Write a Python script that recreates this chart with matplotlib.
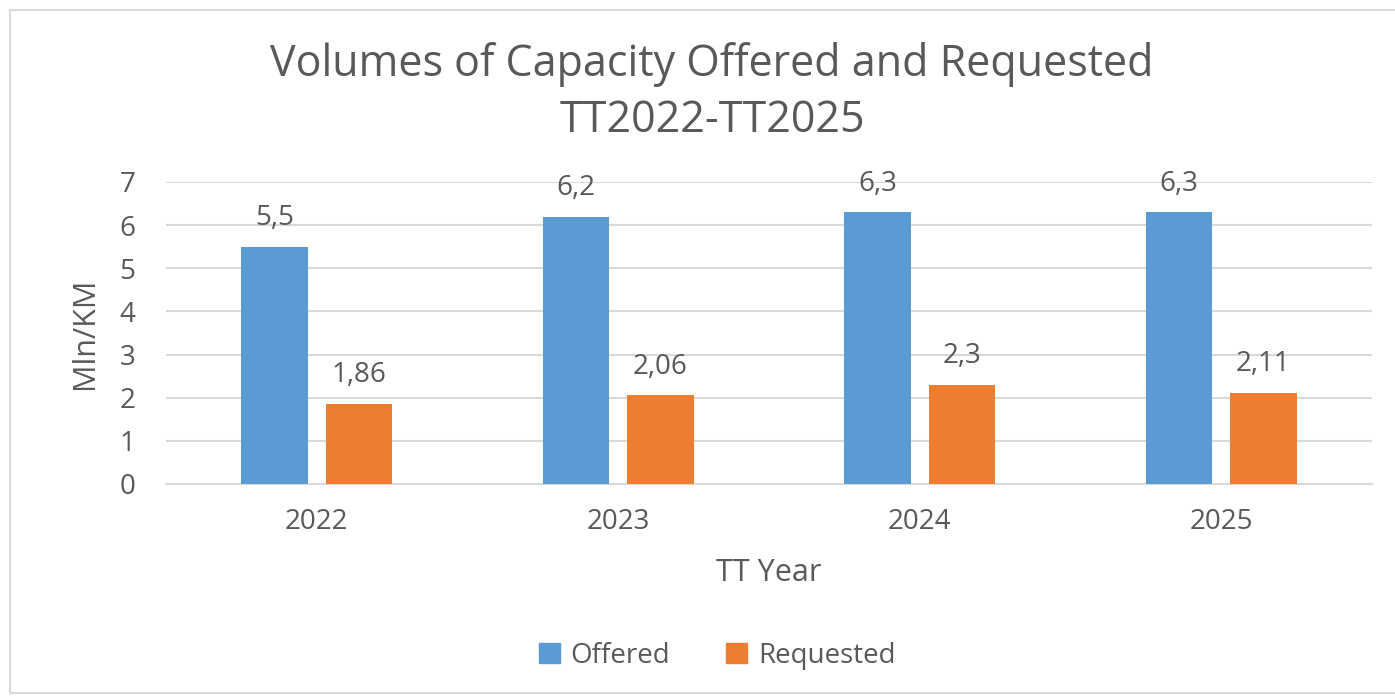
import matplotlib
matplotlib.use("Agg")
import matplotlib.pyplot as plt
from matplotlib.patches import Rectangle, Patch
import numpy as np

years = ["2022", "2023", "2024", "2025"]
offered = [5.5, 6.2, 6.3, 6.3]
requested = [1.86, 2.06, 2.3, 2.11]
offered_labels = ["5,5", "6,2", "6,3", "6,3"]
requested_labels = ["1,86", "2,06", "2,3", "2,11"]
yticks = [0, 1, 2, 3, 4, 5, 6, 7]

BLUE = "#5B9BD5"
ORANGE = "#ED7D31"
TXT = "#595959"
GRID = "#D9D9D9"

plt.rcParams['font.family'] = ['Open Sans', 'DejaVu Sans']

W, H = 1395, 696
fig = plt.figure(figsize=(W / 100, H / 100), dpi=100)

# outer border
fig.patches.append(Rectangle((10 / W, 1 - 693 / H), (W - 8) / W, (693 - 10) / H,
                             transform=fig.transFigure, fill=False,
                             edgecolor="#D9D9D9", linewidth=1.5))

ax = fig.add_axes([166 / W, 1 - 484 / H, (1372 - 166) / W, (484 - 182) / H])
x = np.arange(len(years))
bw = 0.22
off = 0.14
b1 = ax.bar(x - off, offered, bw, color=BLUE, label="Offered", zorder=3)
b2 = ax.bar(x + off, requested, bw, color=ORANGE, label="Requested", zorder=3)

for bars, labels in ((b1, offered_labels), (b2, requested_labels)):
    for rect, lab in zip(bars, labels):
        ax.annotate(lab, (rect.get_x() + rect.get_width() / 2, rect.get_height()),
                    xytext=(0, 15.5), textcoords="offset points",
                    ha="center", va="baseline", fontsize=20, color=TXT)

ax.set_xlim(-0.5, len(years) - 0.5)
ax.set_ylim(0, 7)
ax.set_yticks(yticks)
ax.set_xticks(x)
ax.set_xticklabels(years)
ax.yaxis.grid(True, color=GRID, linewidth=1.5, zorder=0)
ax.set_axisbelow(True)
for s in ["top", "right", "left"]:
    ax.spines[s].set_visible(False)
ax.spines["bottom"].set_color(GRID)
ax.spines["bottom"].set_linewidth(1.5)
ax.tick_params(axis="both", length=0, labelsize=20, labelcolor=TXT)
ax.tick_params(axis="x", pad=17)
ax.tick_params(axis="y", pad=22)

ax.set_ylabel("Mln/KM", fontsize=22, color=TXT, labelpad=14)
ax.set_xlabel("TT Year", fontsize=22, color=TXT, labelpad=16)

fig.text(712 / W, 1 - 76 / H, "Volumes of Capacity Offered and Requested",
         ha="center", va="baseline", fontsize=31, color=TXT)
fig.text(712 / W, 1 - 132 / H, "TT2022-TT2025",
         ha="center", va="baseline", fontsize=31, color=TXT)

fig.legend(handles=[Patch(color=BLUE, label="Offered"), Patch(color=ORANGE, label="Requested")],
           loc="center", bbox_to_anchor=(717 / W, 1 - 656 / H), ncol=2, frameon=False,
           fontsize=20, labelcolor=TXT, handlelength=0.75, handleheight=0.75,
           handletextpad=0.4, columnspacing=2.0)

fig.savefig("out.png", dpi=100, facecolor="white")
